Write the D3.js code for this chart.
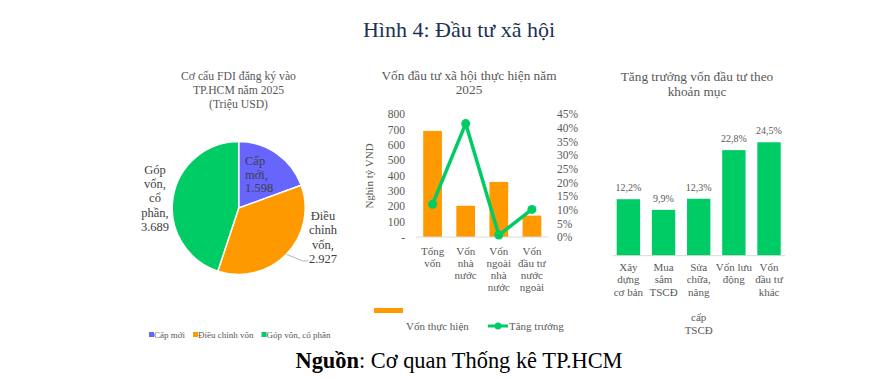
<!DOCTYPE html>
<html><head><meta charset="utf-8">
<script src="https://cdn.jsdelivr.net/npm/d3@7"></script>
<style>
body{margin:0;background:#fff;}
svg{display:block;font-family:"Liberation Serif",serif;}
</style></head>
<body><svg id="c" width="892" height="379"></svg>
<script>
// ---- Data ----
const pieCategories = ["Cấp mới", "Điều chỉnh vốn", "Góp vốn, cổ phần"];
const pieValues = [1598, 2927, 3689];
const pieValueLabels = ["1.598", "2.927", "3.689"];

const midCategories = ["Tổng vốn", "Vốn nhà nước", "Vốn ngoài nhà nước", "Vốn đầu tư nước ngoài"];
const midLabelLines = [["Tổng","vốn"],["Vốn","nhà","nước"],["Vốn","ngoài","nhà","nước"],["Vốn","đầu tư","nước","ngoài"]];
const midValues = [690, 203, 358, 139];
const midGrowth = [0.12, 0.415, 0.007, 0.101];
const leftTicks = [0,100,200,300,400,500,600,700,800];
const rightTicks = [0,0.05,0.10,0.15,0.20,0.25,0.30,0.35,0.40,0.45];

const rightCategories = ["Xây dựng cơ bản","Mua sắm TSCĐ","Sửa chữa, nâng cấp TSCĐ","Vốn lưu động","Vốn đầu tư khác"];
const rightLabelLines = [["Xây","dựng","cơ bản"],["Mua","sắm","TSCĐ"],["Sửa","chữa,","nâng","","cấp","TSCĐ"],["Vốn lưu","động"],["Vốn","đầu tư","khác"]];
const rightValues = [12.2, 9.9, 12.3, 22.8, 24.5];
const rightValueLabels = ["12,2%","9,9%","12,3%","22,8%","24,5%"];

const colors = {purple:"#6666FF", orange:"#FF9900", green:"#00CC66", text:"#595959"};

const svg = d3.select("#c");

// ---- Main title & source ----
svg.append("text").attr("x",459).attr("y",37).attr("text-anchor","middle")
  .attr("font-family","Liberation Serif").attr("font-size",22).attr("fill","#1B3253").text("Hình 4: Đầu tư xã hội");
const src = svg.append("text").attr("x",459).attr("y",368).attr("text-anchor","middle")
  .attr("font-family","Liberation Serif").attr("font-size",22.4).attr("fill","#000");
src.append("tspan").attr("font-weight","bold").text("Nguồn");
src.append("tspan").text(": Cơ quan Thống kê TP.HCM");

function multiTitle(lines, cx, y0, lh, fs){
  lines.forEach((l,i)=>svg.append("text").attr("x",cx).attr("y",y0+i*lh).attr("text-anchor","middle")
    .attr("font-size",fs).attr("fill",colors.text).text(l));
}

// ---- Pie chart ----
multiTitle(["Cơ cấu FDI đăng ký vào","TP.HCM năm 2025","(Triệu USD)"], 238.5, 80, 14.2, 11.7);
const pieColors = [colors.purple, colors.orange, colors.green];
const pcx = 238.7, pcy = 208, pr = 66.5;
const pie = d3.pie().sort(null)(pieValues);
const arc = d3.arc().innerRadius(0).outerRadius(pr);
const pg = svg.append("g").attr("transform",`translate(${pcx},${pcy})`);
pg.selectAll("path").data(pie).join("path").attr("d",arc)
  .attr("fill",(d,i)=>pieColors[i]).attr("stroke","#fff").attr("stroke-width",1.5);

// leader line for slice 2
const edge = d3.arc().innerRadius(pr).outerRadius(pr).centroid(pie[1]);
pg.append("polyline").attr("points",`${edge[0]},${edge[1]} ${edge[0]+16},${edge[1]+6.5} ${edge[0]+22},${edge[1]+6.5}`)
  .attr("fill","none").attr("stroke","#A6A6A6").attr("stroke-width",0.8);

const pieLabelSpecs = [
  {lines:["Cấp","mới,",pieValueLabels[0]], x:245, y:165, anchor:"start", lh:13.7},
  {lines:["Điều","chỉnh","vốn,",pieValueLabels[1]], x:323, y:220, anchor:"middle", lh:14.3},
  {lines:["Góp","vốn,","cổ","phần,",pieValueLabels[2]], x:155, y:174, anchor:"middle", lh:14.2}
];
pieLabelSpecs.forEach(s=>{
  s.lines.forEach((l,i)=>svg.append("text").attr("x",s.x).attr("y",s.y+i*s.lh).attr("text-anchor",s.anchor)
    .attr("font-size",12.5).attr("fill","#404040").text(l));
});
// pie legend
let lx = 149;
const lg = svg.append("g");
pieCategories.forEach((c,i)=>{
  const g = lg.append("g");
  g.append("rect").attr("x",lx).attr("y",332).attr("width",5).attr("height",5).attr("fill",pieColors[i]);
  const t = g.append("text").attr("x",lx+5).attr("y",338).attr("font-size",9).attr("fill",colors.text).text(c);
  lx += 5 + t.node().getComputedTextLength() + 8;
});

// ---- Middle chart ----
multiTitle(["Vốn đầu tư xã hội thực hiện năm","2025"], 469, 79.5, 14.5, 13.3);
const x2 = d3.scaleBand().domain(midCategories).range([416,548.5]).paddingInner(0.435).paddingOuter(0.2175);
const y2 = d3.scaleLinear().domain([0,800]).range([237,114]);
const y2r = d3.scaleLinear().domain([0,0.45]).range([237,114]);

svg.append("g").selectAll("rect").data(midValues).join("rect")
  .attr("x",(d,i)=>x2(midCategories[i])).attr("width",x2.bandwidth())
  .attr("y",d=>y2(d)).attr("height",d=>y2(0)-y2(d)).attr("fill",colors.orange);

svg.append("line").attr("x1",416).attr("x2",548.5).attr("y1",y2(0)).attr("y2",y2(0)).attr("stroke","#D9D9D9").attr("stroke-width",1);

const axL = svg.append("g").attr("transform","translate(407,0)")
  .call(d3.axisLeft(y2).tickValues(leftTicks).tickSize(0).tickFormat(d=>d===0?"-":d));
axL.select(".domain").remove();
axL.selectAll("text").attr("font-family","Liberation Serif").attr("font-size",11.5).attr("fill",colors.text).attr("x",-2);

const axR = svg.append("g").attr("transform","translate(555,0)")
  .call(d3.axisRight(y2r).tickValues(rightTicks).tickSize(0).tickFormat(d3.format(".0%")));
axR.select(".domain").remove();
axR.selectAll("text").attr("font-family","Liberation Serif").attr("font-size",11.5).attr("fill",colors.text).attr("x",2);

svg.append("text").attr("transform","translate(373,176) rotate(-90)").attr("text-anchor","middle")
  .attr("font-size",11).attr("fill",colors.text).text("Nghìn tỷ VND");

const lineGen = d3.line().x((d,i)=>x2(midCategories[i])+x2.bandwidth()/2).y(d=>y2r(d));
svg.append("path").datum(midGrowth).attr("d",lineGen).attr("fill","none").attr("stroke",colors.green).attr("stroke-width",3.5).attr("stroke-linejoin","round");
svg.append("g").selectAll("circle").data(midGrowth).join("circle")
  .attr("cx",(d,i)=>x2(midCategories[i])+x2.bandwidth()/2).attr("cy",d=>y2r(d)).attr("r",4.5).attr("fill",colors.green);

midLabelLines.forEach((lines,i)=>{
  lines.forEach((l,j)=>svg.append("text").attr("x",x2(midCategories[i])+x2.bandwidth()/2).attr("y",254.5+j*12)
    .attr("text-anchor","middle").attr("font-size",11).attr("fill",colors.text).text(l));
});
// middle legend
svg.append("rect").attr("x",374).attr("y",308).attr("width",29).attr("height",5).attr("fill",colors.orange);
svg.append("text").attr("x",406).attr("y",330).attr("font-size",11).attr("fill",colors.text).text("Vốn thực hiện");
svg.append("line").attr("x1",488).attr("x2",508).attr("y1",326).attr("y2",326).attr("stroke",colors.green).attr("stroke-width",3);
svg.append("circle").attr("cx",498).attr("cy",326).attr("r",3.5).attr("fill",colors.green);
svg.append("text").attr("x",509).attr("y",330).attr("font-size",11).attr("fill",colors.text).text("Tăng trưởng");

// ---- Right chart ----
multiTitle(["Tăng trưởng vốn đầu tư theo","khoản mục"], 697, 80.5, 15.5, 13.3);
const x3 = d3.scaleBand().domain(rightCategories).range([610.8,786.6]).paddingInner(0.335).paddingOuter(0.1675);
const y3 = d3.scaleLinear().domain([0,30]).range([255.7,116.8]);
svg.append("g").selectAll("rect").data(rightValues).join("rect")
  .attr("x",(d,i)=>x3(rightCategories[i])).attr("width",x3.bandwidth())
  .attr("y",d=>y3(d)).attr("height",d=>y3(0)-y3(d)).attr("fill",colors.green);
svg.append("line").attr("x1",612.7).attr("x2",785).attr("y1",y3(0)).attr("y2",y3(0)).attr("stroke","#D9D9D9");
svg.append("g").selectAll("text").data(rightValues).join("text")
  .attr("x",(d,i)=>x3(rightCategories[i])+x3.bandwidth()/2).attr("y",d=>y3(d)-8)
  .attr("text-anchor","middle").attr("font-size",10).attr("fill",colors.text).text((d,i)=>rightValueLabels[i]);
rightLabelLines.forEach((lines,i)=>{
  lines.forEach((l,j)=>svg.append("text").attr("x",x3(rightCategories[i])+x3.bandwidth()/2).attr("y",270.5+j*12.6)
    .attr("text-anchor","middle").attr("font-size",11).attr("fill",colors.text).text(l));
});
</script></body></html>
